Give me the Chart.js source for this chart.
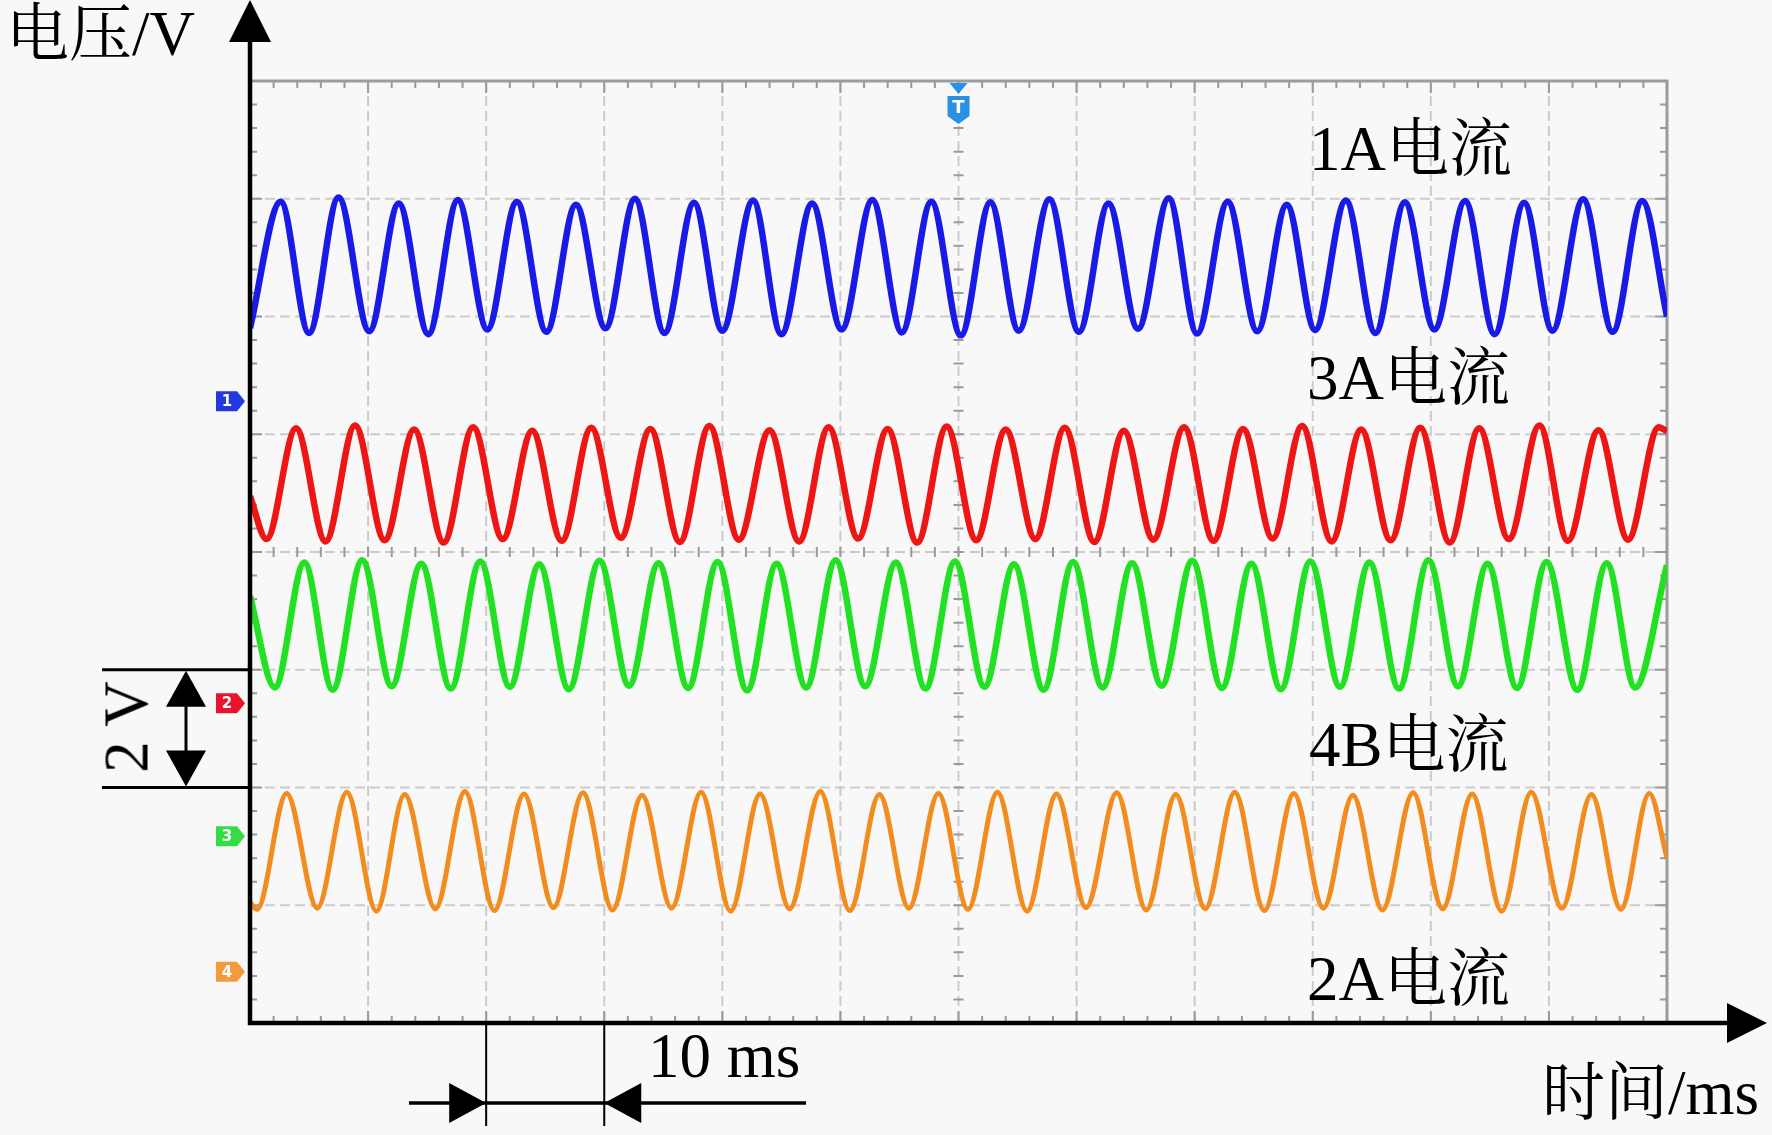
<!DOCTYPE html>
<html lang="zh">
<head>
<meta charset="UTF-8">
<title>电流波形</title>
<script src="https://cdn.jsdelivr.net/npm/chart.js"></script>
<style>
  html, body { margin: 0; padding: 0; background: #f8f8f8; }
  .wrap { position: relative; width: 1772px; height: 1135px; overflow: hidden; }
  #scope { position: absolute; left: 0; top: 0; }
  .lbl {
    position: absolute;
    font-family: "Liberation Serif", "Noto Serif CJK SC", "Noto Sans CJK SC", serif;
    font-size: 63px;
    line-height: 1;
    color: #000;
    white-space: nowrap;
  }
  .rot { transform: translate(-50%, -50%) rotate(-90deg); }
</style>
</head>
<body>
<div class="wrap">
  <canvas id="scope" width="1772" height="1135"></canvas>
  <div class="lbl" style="left:6px; top:3px;">电压/V</div>
  <div class="lbl" style="left:1309px; top:118px;">1A电流</div>
  <div class="lbl" style="left:1307px; top:347px;">3A电流</div>
  <div class="lbl" style="left:1309px; top:714px;">4B电流</div>
  <div class="lbl" style="left:1307px; top:948px;">2A电流</div>
  <div class="lbl" style="left:1542px; top:1062px;">时间/ms</div>
  <div class="lbl" style="left:648px; top:1025px;">10 ms</div>
  <div class="lbl rot" style="left:127px; top:727px;">2 V</div>
</div>

<script>
  // time axis: 12 div x 10 ms, voltage axis: 8 div x 2 V
  const timeRange = [0, 120];
  const voltRange = [0, 16];

  // channel 1 (blue) - alternating troughs / peaks
  const ch1Time = [0.0, 2.6, 5.0, 7.5, 10.1, 12.6, 15.1, 17.6, 20.1, 22.6, 25.1, 27.6,
    30.1, 32.6, 35.1, 37.6, 40.0, 42.6, 45.0, 47.6, 50.1, 52.7, 55.2, 57.7,
    60.2, 62.7, 65.1, 67.7, 70.2, 72.7, 75.2, 77.8, 80.2, 82.8, 85.3, 87.8,
    90.2, 92.8, 95.3, 97.8, 100.3, 102.9, 105.4, 107.9, 110.3, 112.9, 115.4, 117.9, 120.0];
  const ch1Volt = [11.80, 13.95, 11.72, 14.02, 11.75, 13.92, 11.70, 13.98, 11.78, 13.95, 11.74, 13.90,
    11.80, 14.00, 11.72, 13.93, 11.76, 13.97, 11.70, 13.92, 11.78, 13.98, 11.73, 13.95,
    11.68, 13.94, 11.76, 13.99, 11.74, 13.92, 11.79, 14.01, 11.71, 13.95, 11.75, 13.90,
    11.77, 13.97, 11.72, 13.94, 11.78, 13.96, 11.70, 13.93, 11.76, 13.99, 11.74, 13.96, 12.00];

  // channel 2 (red)
  const ch2Time = [0.0, 1.4, 3.9, 6.4, 8.9, 11.4, 13.9, 16.4, 18.9, 21.4, 23.9, 26.4,
    28.9, 31.4, 33.9, 36.4, 38.9, 41.4, 44.0, 46.5, 49.0, 51.5, 54.0, 56.5,
    59.0, 61.5, 64.0, 66.5, 69.0, 71.5, 74.0, 76.5, 79.1, 81.6, 84.1, 86.6,
    89.1, 91.6, 94.1, 96.6, 99.1, 101.6, 104.1, 106.6, 109.2, 111.6, 114.2, 116.7, 119.3, 120.0];
  const ch2Volt = [8.95, 8.22, 10.10, 8.18, 10.15, 8.20, 10.08, 8.16, 10.12, 8.22, 10.06, 8.19,
    10.11, 8.24, 10.09, 8.17, 10.14, 8.21, 10.07, 8.18, 10.12, 8.23, 10.09, 8.16,
    10.13, 8.20, 10.08, 8.22, 10.11, 8.17, 10.06, 8.21, 10.12, 8.19, 10.09, 8.23,
    10.14, 8.18, 10.08, 8.20, 10.11, 8.16, 10.10, 8.22, 10.15, 8.19, 10.07, 8.21, 10.12, 10.05];

  // channel 3 (green)
  const ch3Time = [0.0, 2.1, 4.6, 7.0, 9.5, 12.0, 14.5, 17.0, 19.5, 22.0, 24.5, 27.0,
    29.6, 32.1, 34.6, 37.1, 39.6, 42.1, 44.6, 47.1, 49.6, 52.1, 54.7, 57.2,
    59.7, 62.2, 64.7, 67.2, 69.7, 72.2, 74.7, 77.2, 79.8, 82.3, 84.8, 87.3,
    89.8, 92.3, 94.8, 97.3, 99.8, 102.3, 104.8, 107.3, 109.8, 112.4, 114.9, 117.3, 120.0];
  const ch3Volt = [7.25, 5.70, 7.82, 5.66, 7.86, 5.72, 7.80, 5.68, 7.84, 5.71, 7.79, 5.67,
    7.85, 5.73, 7.81, 5.69, 7.83, 5.65, 7.80, 5.70, 7.86, 5.72, 7.82, 5.68,
    7.84, 5.71, 7.79, 5.66, 7.83, 5.70, 7.81, 5.73, 7.85, 5.69, 7.80, 5.67,
    7.84, 5.71, 7.82, 5.68, 7.86, 5.72, 7.80, 5.69, 7.83, 5.66, 7.81, 5.70, 7.78];

  // channel 4 (orange)
  const ch4Time = [0.0, 0.6, 3.1, 5.7, 8.2, 10.7, 13.1, 15.7, 18.2, 20.7, 23.2, 25.7,
    28.2, 30.7, 33.2, 35.7, 38.2, 40.7, 43.2, 45.7, 48.3, 50.8, 53.3, 55.8,
    58.3, 60.8, 63.3, 65.8, 68.3, 70.8, 73.4, 75.9, 78.4, 80.9, 83.4, 85.9,
    88.4, 90.9, 93.4, 95.9, 98.5, 101.0, 103.5, 106.0, 108.5, 111.1, 113.6, 116.1, 118.5, 120.0];
  const ch4Volt = [2.05, 1.93, 3.90, 1.95, 3.92, 1.90, 3.88, 1.94, 3.93, 1.91, 3.89, 1.96,
    3.91, 1.92, 3.87, 1.95, 3.92, 1.90, 3.89, 1.94, 3.93, 1.91, 3.88, 1.95,
    3.90, 1.93, 3.92, 1.90, 3.89, 1.96, 3.91, 1.92, 3.88, 1.94, 3.92, 1.91,
    3.90, 1.95, 3.87, 1.92, 3.91, 1.94, 3.89, 1.90, 3.92, 1.95, 3.88, 1.93, 3.90, 2.80];

  // channel reference markers on the left edge (V), trigger time (ms)
  const chOffsetVolt = [10.56, 5.43, 3.17, 0.87];
  const chLabels = ['1', '2', '3', '4'];
  const chColors = ['#1a1ae6', '#ee1515', '#22e022', '#f28c1e'];
  const markerColors = ['#2438e0', '#e8142c', '#36dc44', '#f39a3c'];
  const triggerTime = 60;
  // scale bars: 10 ms between 20 and 30 ms, 2 V between 4 and 6 V
  const timeBar = [20, 30];
  const voltBar = [4, 6];

  const toPoints = (ts, vs) => ts.map((t, i) => ({ x: t, y: vs[i] }));

  function isMajor(v, step) {
    const q = v / step;
    return Math.abs(q - Math.round(q)) < 1e-6;
  }

  function tri(ctx, pts) {
    ctx.beginPath();
    ctx.moveTo(pts[0][0], pts[0][1]);
    for (let i = 1; i < pts.length; i++) ctx.lineTo(pts[i][0], pts[i][1]);
    ctx.closePath();
    ctx.fill();
  }

  const scopeDeco = {
    id: 'scopeDeco',
    beforeDatasetsDraw(chart) {
      const { ctx, chartArea: a, scales: { x, y } } = chart;
      const xMid = x.getPixelForValue(triggerTime);
      const yMid = y.getPixelForValue((voltRange[0] + voltRange[1]) / 2);
      ctx.save();

      // dashed division grid
      ctx.strokeStyle = '#cbcbcb';
      ctx.lineWidth = 2;
      ctx.setLineDash([10, 5]);
      x.ticks.forEach(t => {
        if (!isMajor(t.value, 10) || t.value <= timeRange[0] || t.value >= timeRange[1]) return;
        const px = x.getPixelForValue(t.value);
        ctx.beginPath(); ctx.moveTo(px, a.top); ctx.lineTo(px, a.bottom); ctx.stroke();
      });
      y.ticks.forEach(t => {
        if (!isMajor(t.value, 2) || t.value <= voltRange[0] || t.value >= voltRange[1]) return;
        const py = y.getPixelForValue(t.value);
        ctx.beginPath(); ctx.moveTo(a.left, py); ctx.lineTo(a.right, py); ctx.stroke();
      });
      ctx.setLineDash([]);

      // frame
      ctx.strokeStyle = '#9c9c9c';
      ctx.lineWidth = 3;
      ctx.beginPath();
      ctx.moveTo(a.left, a.top); ctx.lineTo(a.right, a.top); ctx.lineTo(a.right, a.bottom);
      ctx.stroke();

      // minor ticks on frame and centre lines
      ctx.strokeStyle = '#9a9a9a';
      ctx.lineWidth = 2;
      x.ticks.forEach(t => {
        const px = x.getPixelForValue(t.value);
        const len = isMajor(t.value, 10) ? 12 : 7;
        ctx.beginPath();
        ctx.moveTo(px, a.top); ctx.lineTo(px, a.top + len);
        ctx.moveTo(px, a.bottom); ctx.lineTo(px, a.bottom - len);
        ctx.moveTo(px, yMid - 5); ctx.lineTo(px, yMid + 5);
        ctx.stroke();
      });
      y.ticks.forEach(t => {
        const py = y.getPixelForValue(t.value);
        const len = isMajor(t.value, 2) ? 12 : 7;
        ctx.beginPath();
        ctx.moveTo(a.left, py); ctx.lineTo(a.left + len, py);
        ctx.moveTo(a.right, py); ctx.lineTo(a.right - len, py);
        ctx.moveTo(xMid - 5, py); ctx.lineTo(xMid + 5, py);
        ctx.stroke();
      });
      ctx.restore();
    },
    afterDatasetsDraw(chart) {
      const { ctx, chartArea: a, scales: { x, y } } = chart;
      ctx.save();
      ctx.fillStyle = '#000';
      ctx.strokeStyle = '#000';

      // axes with arrows
      ctx.lineWidth = 4.5;
      ctx.beginPath();
      ctx.moveTo(a.left, a.bottom + 2); ctx.lineTo(a.left, 38);
      ctx.moveTo(a.left - 2, a.bottom); ctx.lineTo(1730, a.bottom);
      ctx.stroke();
      tri(ctx, [[a.left, 0], [a.left + 21, 42], [a.left - 21, 42]]);
      tri(ctx, [[1767, a.bottom], [1727, a.bottom + 20], [1727, a.bottom - 20]]);

      // 10 ms scale bar
      const t0 = x.getPixelForValue(timeBar[0]);
      const t1 = x.getPixelForValue(timeBar[1]);
      const barY = a.bottom + 80;
      ctx.lineWidth = 2;
      ctx.beginPath();
      ctx.moveTo(t0, a.bottom); ctx.lineTo(t0, a.bottom + 103);
      ctx.moveTo(t1, a.bottom); ctx.lineTo(t1, a.bottom + 103);
      ctx.stroke();
      ctx.lineWidth = 3.5;
      ctx.beginPath();
      ctx.moveTo(409, barY); ctx.lineTo(806, barY);
      ctx.stroke();
      tri(ctx, [[t0, barY], [t0 - 37, barY - 20], [t0 - 37, barY + 20]]);
      tri(ctx, [[t1, barY], [t1 + 37, barY - 20], [t1 + 37, barY + 20]]);

      // 2 V scale bar
      const v0 = y.getPixelForValue(voltBar[0]);
      const v1 = y.getPixelForValue(voltBar[1]);
      const barX = 186;
      ctx.lineWidth = 3;
      ctx.beginPath();
      ctx.moveTo(102, v0); ctx.lineTo(a.left, v0);
      ctx.moveTo(102, v1); ctx.lineTo(a.left, v1);
      ctx.moveTo(barX, v1 + 30); ctx.lineTo(barX, v0 - 30);
      ctx.stroke();
      tri(ctx, [[barX, v1 + 1], [barX + 20, v1 + 37], [barX - 20, v1 + 37]]);
      tri(ctx, [[barX, v0 - 1], [barX + 20, v0 - 37], [barX - 20, v0 - 37]]);

      // channel markers
      ctx.font = 'bold 15px "DejaVu Sans", sans-serif';
      ctx.textAlign = 'center';
      ctx.textBaseline = 'middle';
      chOffsetVolt.forEach((v, i) => {
        const py = y.getPixelForValue(v);
        const x0 = a.left - 34;
        ctx.fillStyle = markerColors[i];
        tri(ctx, [[x0, py - 10], [x0 + 21, py - 10], [x0 + 29, py], [x0 + 21, py + 10], [x0, py + 10]]);
        ctx.fillStyle = '#fff';
        ctx.fillText(chLabels[i], x0 + 11, py + 1);
      });

      // trigger marker
      const tx = x.getPixelForValue(triggerTime);
      ctx.fillStyle = '#2a90e4';
      tri(ctx, [[tx - 9, a.top + 2], [tx + 9, a.top + 2], [tx, a.top + 13]]);
      tri(ctx, [[tx - 11, a.top + 15], [tx + 11, a.top + 15], [tx + 11, a.top + 35],
        [tx, a.top + 43], [tx - 11, a.top + 35]]);
      ctx.fillStyle = '#fff';
      ctx.font = 'bold 18px "DejaVu Sans", sans-serif';
      ctx.fillText('T', tx, a.top + 27);
      ctx.restore();
    }
  };

  const traces = [
    toPoints(ch1Time, ch1Volt),
    toPoints(ch2Time, ch2Volt),
    toPoints(ch3Time, ch3Volt),
    toPoints(ch4Time, ch4Volt)
  ];

  new Chart(document.getElementById('scope').getContext('2d'), {
    type: 'line',
    data: {
      datasets: traces.map((pts, i) => ({
        label: 'CH' + chLabels[i],
        data: pts,
        borderColor: chColors[i],
        borderWidth: i === 3 ? 5 : 6.5,
        pointRadius: 0,
        cubicInterpolationMode: 'monotone',
        fill: false
      }))
    },
    options: {
      responsive: false,
      animation: false,
      devicePixelRatio: 1,
      layout: { padding: { left: 250, top: 81, right: 105, bottom: 112 } },
      plugins: { legend: { display: false }, tooltip: { enabled: false } },
      scales: {
        x: {
          type: 'linear', min: timeRange[0], max: timeRange[1],
          ticks: { display: false, stepSize: 2 },
          grid: { display: false, drawTicks: false },
          border: { display: false }
        },
        y: {
          type: 'linear', min: voltRange[0], max: voltRange[1],
          ticks: { display: false, stepSize: 0.4 },
          grid: { display: false, drawTicks: false },
          border: { display: false }
        }
      }
    },
    plugins: [scopeDeco]
  });
</script>
</body>
</html>
